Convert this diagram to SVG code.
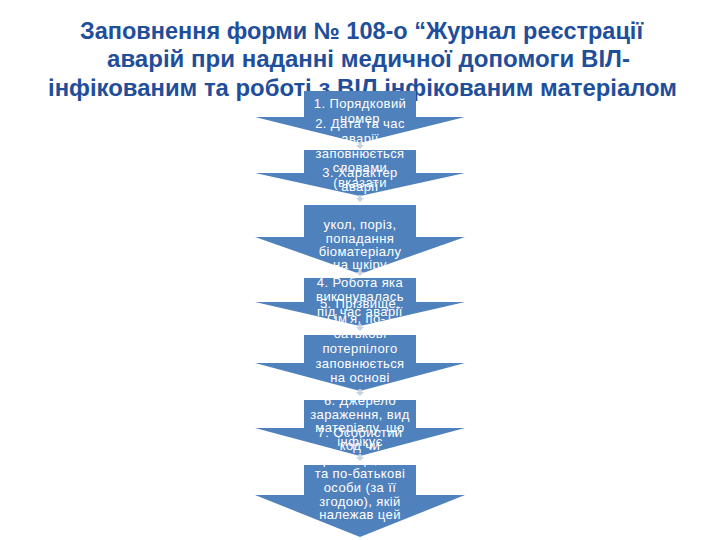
<svg xmlns="http://www.w3.org/2000/svg" width="720" height="540" viewBox="0 0 720 540">
<style>
.title{font-family:"Liberation Sans",Arial,sans-serif;font-weight:bold;font-size:23.5px;fill:#1F4E9B;text-anchor:middle}
.arr{fill:#4F81BD}
.t{font-family:"Liberation Sans",Arial,sans-serif;font-size:13px;fill:#FFFFFF;text-anchor:middle;letter-spacing:0.4px}
.con{fill:#C8D1E0}
</style>
<rect width="720" height="540" fill="#FFFFFF"/>
<g id="title">
<text class="title" x="361.5" y="39" textLength="563" lengthAdjust="spacingAndGlyphs">Заповнення форми № 108-о “Журнал реєстрації</text>
<text class="title" x="368.5" y="67" textLength="523" lengthAdjust="spacingAndGlyphs">аварій при наданні медичної допомоги ВІЛ-</text>
<text class="title" x="362.5" y="96" textLength="629" lengthAdjust="spacingAndGlyphs">інфікованим та роботі з ВІЛ інфікованим матеріалом</text>
</g>
<g id="node1">
<path class="arr" d="M304,91 H416 V117 H465 L360,143 L255,117 H304 Z"/>
<text class="t" x="360" y="108">1. Порядковий</text>
<text class="t" x="360" y="123">номер</text>
</g>
<g id="node2">
<path class="arr" d="M304,150 H416 V173 H465 L360,196 L255,173 H304 Z"/>
<text class="t" x="360" y="128">2. Дата та час</text>
<text class="t" x="360" y="143">аварії</text>
<text class="t" x="360" y="158">заповнюється</text>
<text class="t" x="360" y="172">словами</text>
<text class="t" x="360" y="187">(вказати</text>
</g>
<g id="node3">
<path class="arr" d="M304,205 H416 V237 H465 L360,274 L255,237 H304 Z"/>
<text class="t" x="360" y="177">3. Характер</text>
<text class="t" x="360" y="191">аварії</text>
<text class="t" x="360" y="229">укол, поріз,</text>
<text class="t" x="360" y="243">попадання</text>
<text class="t" x="360" y="256">біоматеріалу</text>
<text class="t" x="360" y="269">на шкіру</text>
</g>
<g id="node4">
<path class="arr" d="M304,278 H416 V302 H465 L360,326 L255,302 H304 Z"/>
<text class="t" x="360" y="287">4. Робота яка</text>
<text class="t" x="360" y="301">виконувалась</text>
<text class="t" x="360" y="316">під час аварії</text>
</g>
<g id="node5">
<path class="arr" d="M304,335 H416 V363 H465 L360,391 L255,363 H304 Z"/>
<text class="t" x="360" y="308">5. Прізвище,</text>
<text class="t" x="360" y="323">ім'я, по-</text>
<text class="t" x="360" y="338">батькові</text>
<text class="t" x="360" y="353">потерпілого</text>
<text class="t" x="360" y="368">заповнюється</text>
<text class="t" x="360" y="382">на основі</text>
</g>
<g id="node6">
<path class="arr" d="M304,400 H416 V428 H465 L360,456 L255,428 H304 Z"/>
<text class="t" x="360" y="405">6. Джерело</text>
<text class="t" x="360" y="419">зараження, вид</text>
<text class="t" x="360" y="432">матеріалу, що</text>
<text class="t" x="360" y="446">інфікує</text>
</g>
<g id="node7">
<path class="arr" d="M304,465 H416 V495 H465 L360,537 L255,495 H304 Z"/>
<text class="t" x="360" y="437">7. Особистий</text>
<text class="t" x="360" y="450">код чи</text>
<text class="t" x="360" y="464">прізвище, ім'я</text>
<text class="t" x="360" y="478">та по-батькові</text>
<text class="t" x="360" y="492">особи (за її</text>
<text class="t" x="360" y="506">згодою), якій</text>
<text class="t" x="360" y="519">належав цей</text>
</g>
<g id="connectors">
<path class="con" d="M358.5,142 h3 v3 h2.5 l-4,4 l-4,-4 h2.5 z"/>
<path class="con" d="M358.5,195 h3 v3 h2.5 l-4,4 l-4,-4 h2.5 z"/>
<path class="con" d="M358.5,269 h3 v3 h2.5 l-4,4 l-4,-4 h2.5 z"/>
<path class="con" d="M358.5,324 h3 v3 h2.5 l-4,4 l-4,-4 h2.5 z"/>
<path class="con" d="M358.5,389 h3 v3 h2.5 l-4,4 l-4,-4 h2.5 z"/>
<path class="con" d="M358.5,454 h3 v3 h2.5 l-4,4 l-4,-4 h2.5 z"/>
</g>
</svg>
